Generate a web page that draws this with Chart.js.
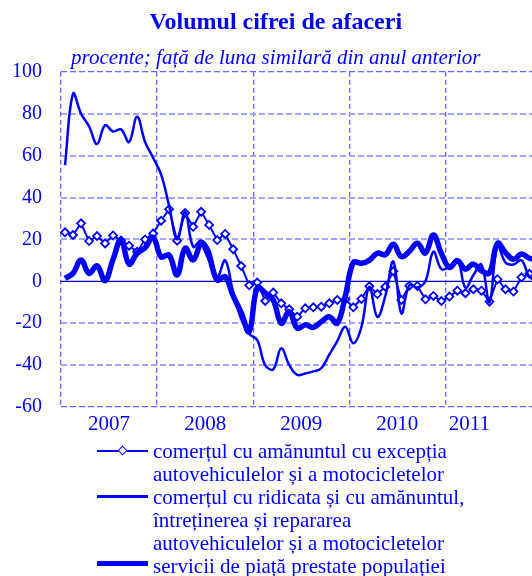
<!DOCTYPE html>
<html>
<head>
<meta charset="utf-8">
<script src="https://cdn.jsdelivr.net/npm/chart.js@4.4.0/dist/chart.umd.min.js"></script>
<style>
  html, body { margin: 0; padding: 0; background: #fff; overflow: hidden; }
  #wrap { position: relative; width: 566px; height: 576px; }
  #chart { position: absolute; left: 0; top: 0; }
  #legend {
    position: absolute; left: 97px; top: 440px;
    font-family: "Liberation Serif", "Times New Roman", serif;
    font-size: 21px; line-height: 23px; color: #0000ff; white-space: nowrap;
  }
  .item { display: flex; align-items: flex-start; }
  .sample { position: relative; width: 51px; height: 23px; margin-right: 5px; flex: none; }
  .sample .ln { position: absolute; left: 0; right: 0; background: #0000ff; }
  .sample .dm {
    position: absolute; left: 22px; top: 7px; width: 5px; height: 5px;
    background: #fff; border: 1.8px solid #0000ff; transform: rotate(45deg);
  }
</style>
</head>
<body>
<div id="wrap">
  <canvas id="chart" width="566" height="440"></canvas>
  <div id="legend">
    <div class="item">
      <div class="sample"><div class="ln" style="top:10px;height:2px"></div><div class="dm"></div></div>
      <div>comerțul cu amănuntul cu excepția<br>autovehiculelor și a motocicletelor</div>
    </div>
    <div class="item">
      <div class="sample"><div class="ln" style="top:9px;height:2.5px"></div></div>
      <div>comerțul cu ridicata și cu amănuntul,<br>întreținerea și repararea<br>autovehiculelor și a motocicletelor</div>
    </div>
    <div class="item">
      <div class="sample"><div class="ln" style="top:6px;height:5px"></div></div>
      <div>servicii de piață prestate populației</div>
    </div>
  </div>
</div>

<script>
// Data for the chart (monthly, Jan 2007 - Dec 2011)
var years = ["2007", "2008", "2009", "2010", "2011"];
var monthNames = ["ian", "feb", "mar", "apr", "mai", "iun", "iul", "aug", "sep", "oct", "nov", "dec"];

// comertul cu amanuntul cu exceptia autovehiculelor si a motocicletelor
var retail = [
  23.4, 22.1, 27.7, 19.2, 21.6, 18.1, 21.9, 19.5, 17.0, 14.1, 20.0, 22.8,
  28.9, 34.4, 19.4, 32.6, 26.0, 33.2, 26.9, 19.7, 22.6, 15.3, 7.3, -1.9,
  -0.6, -9.4, -5.4, -10.5, -13.4, -16.9, -12.9, -12.4, -12.1, -10.5, -8.9, -8.6,
  -12.4, -8.4, -2.4, -6.1, -2.6, 4.8, -8.9, -2.1, -2.2, -8.6, -7.0, -9.4,
  -7.3, -4.5, -5.7, -3.8, -4.5, -9.7, 1.0, -3.8, -4.9, 1.9, 3.6, 2.0
];

// comertul cu ridicata si cu amanuntul, intretinerea si repararea autovehiculelor
var wholesale = [
  55.5, 89.5, 80.0, 74.0, 65.5, 74.5, 71.5, 72.5, 66.5, 78.5, 66.5, 59.0,
  51.0, 36.0, 20.0, 33.0, 16.5, 19.5, 15.0, 2.0, 10.0, -5.5, -18.0, -25.0,
  -28.0, -40.0, -42.0, -32.0, -40.0, -44.7, -44.0, -43.0, -41.5, -35.0, -28.5, -21.7,
  -29.6, -22.0, -2.6, -17.0, -7.0, 9.4, -15.3, -1.8, -2.9, 0.0, 14.1, 5.8,
  7.0, 10.5, -3.0, 3.0, 8.0, -10.0, 17.0, 9.0, 8.0, 10.0, 2.0, 0.0
];

// servicii de piata prestate populatiei
var services = [
  1.4, 3.8, 10.2, 3.8, 7.4, 0.3, 10.5, 19.7, 8.2, 13.4, 16.0, 21.0,
  11.7, 12.5, 3.0, 15.8, 10.2, 17.5, 11.5, 0.6, 2.2, -7.0, -15.0, -24.0,
  -3.0, -5.5, -8.9, -20.0, -14.5, -22.4, -20.8, -22.0, -19.3, -16.9, -20.0, -7.0,
  9.0, 8.6, 10.0, 13.4, 12.7, 17.7, 11.8, 14.3, 18.2, 13.5, 22.1, 13.3,
  6.6, 9.8, 5.8, 8.2, 5.0, 4.0, 18.1, 13.7, 10.5, 13.0, 11.0, 10.0
];

var yTicks = [-60, -40, -20, 0, 20, 40, 60, 80, 100];

// month categories
var labels = [];
years.forEach(function (y) {
  monthNames.forEach(function (m) { labels.push(m + " " + y); });
});

// where the year names sit on the category axis
var yearLabelAt = { 6: years[0], 18: years[1], 30: years[2], 42: years[3], 51: years[4] };

var blue = "#0000ff";
var serif = "'Liberation Serif', 'Times New Roman', serif";

// solid line at zero, under the series
var zeroLine = {
  id: "zeroLine",
  beforeDatasetsDraw: function (chart) {
    var ctx = chart.ctx;
    var area = chart.chartArea;
    var y = chart.scales.y.getPixelForValue(0);
    ctx.save();
    ctx.strokeStyle = "#0000c0";
    ctx.lineWidth = 1.3;
    ctx.beginPath();
    ctx.moveTo(area.left, y);
    ctx.lineTo(area.right, y);
    ctx.stroke();
    ctx.restore();
  }
};

var data = {
  labels: labels,
  datasets: [
    {
      label: "comerțul cu amănuntul cu excepția autovehiculelor și a motocicletelor",
      data: retail,
      borderColor: blue,
      borderWidth: 2,
      tension: 0,
      pointStyle: "rectRot",
      pointRadius: 4,
      pointBackgroundColor: "#fff",
      pointBorderColor: blue,
      pointBorderWidth: 1.8,
      order: 2
    },
    {
      label: "comerțul cu ridicata și cu amănuntul, întreținerea și repararea autovehiculelor și a motocicletelor",
      data: wholesale,
      borderColor: blue,
      borderWidth: 2.5,
      tension: 0.4,
      pointRadius: 0,
      order: 1
    },
    {
      label: "servicii de piață prestate populației",
      data: services,
      borderColor: blue,
      borderWidth: 5.5,
      tension: 0.4,
      pointRadius: 0,
      order: 0
    }
  ]
};

var options = {
  responsive: false,
  animation: false,
  layout: { padding: { left: 10, right: 24.5, top: 0, bottom: 0 } },
  plugins: {
    legend: { display: false },
    tooltip: { enabled: false },
    title: {
      display: true,
      text: "Volumul cifrei de afaceri",
      color: blue,
      font: { family: serif, size: 24, weight: "bold" },
      padding: { top: 8, bottom: 0 }
    },
    subtitle: {
      display: true,
      text: "procente; față de luna similară din anul anterior",
      color: blue,
      font: { family: serif, size: 21, style: "italic" },
      padding: { top: 8.6, bottom: 1.2 }
    }
  },
  scales: {
    x: {
      type: "category",
      offset: true,
      afterFit: function (scale) { scale.height = 33; },
      grid: {
        offset: true,
        drawTicks: false,
        lineWidth: 1.3,
        color: function (c) {
          return c.index !== undefined && c.index % 12 === 0 ? "#6464ff" : "transparent";
        }
      },
      border: { display: false, dash: [5, 3] },
      ticks: {
        autoSkip: false,
        maxRotation: 0,
        padding: 5,
        labelOffset: -4,
        color: blue,
        font: { family: serif, size: 21 },
        callback: function (v, i) { return yearLabelAt[i] || ""; }
      }
    },
    y: {
      min: yTicks[0],
      max: yTicks[yTicks.length - 1],
      afterFit: function (scale) { scale.width = 51; },
      grid: {
        drawTicks: false,
        lineWidth: function (c) {
          var v = c.tick ? c.tick.value : 0;
          return v === 100 || v === -60 ? 1.3 : 2;
        },
        color: function (c) {
          var v = c.tick ? c.tick.value : 0;
          if (v === 0) return "transparent";
          return v === 100 || v === -60 ? "#6464ff" : "#a3a3ff";
        }
      },
      border: { display: false, dash: [6, 3] },
      ticks: {
        stepSize: 20,
        padding: 19,
        color: blue,
        font: { family: serif, size: 20 }
      }
    }
  }
};

var ctx = document.getElementById("chart");

var chart = new Chart(ctx, {
  type: "line",
  data: data,
  options: options,
  plugins: [zeroLine]
});
</script>
</body>
</html>
